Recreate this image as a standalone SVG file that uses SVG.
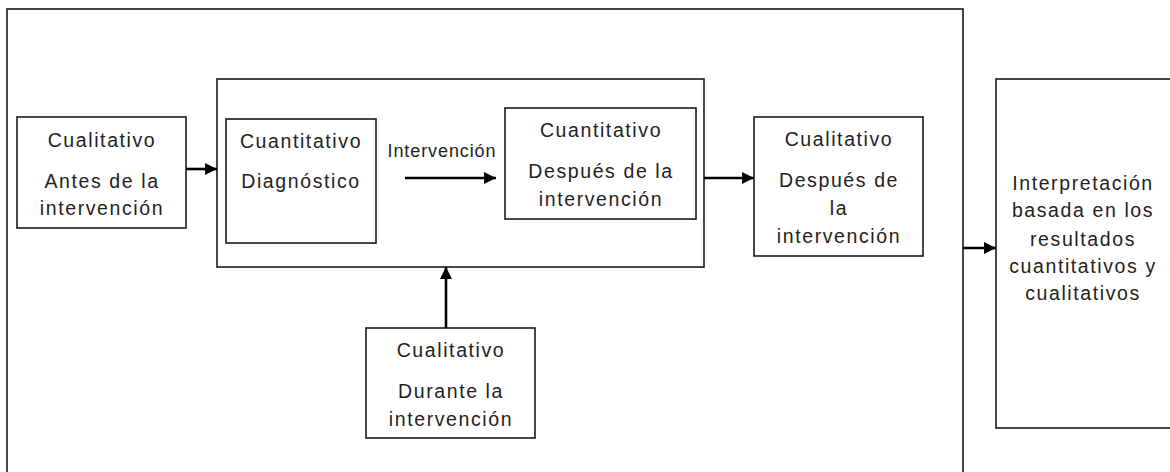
<svg xmlns="http://www.w3.org/2000/svg" width="1170" height="472" viewBox="0 0 1170 472">
<style>
.box{fill:none;stroke:#1a1a1a;stroke-width:1.6}
.t{font-family:"Liberation Sans",Arial,sans-serif;font-size:19.5px;letter-spacing:1.6px;fill:#222;text-anchor:middle}
.c{stroke:#000;stroke-width:2.6;fill:none;marker-end:url(#ah)}
</style>
<defs>
<marker id="ah" viewBox="0 0 10 10" refX="10" refY="5" markerWidth="4.8" markerHeight="4.6" orient="auto" markerUnits="strokeWidth">
<path d="M0,0 L10,5 L0,10 Z" fill="#000"/>
</marker>
</defs>
<rect width="1170" height="472" fill="#fff"/>
<g id="outer"><rect class="box" x="7" y="9" width="956" height="480" stroke-width="2"/></g>
<g id="middle"><rect class="box" x="217" y="79" width="487" height="188"/></g>
<g id="antes">
<rect class="box" x="17" y="117" width="169" height="111"/>
<text class="t" x="102" y="147">Cualitativo</text>
<text class="t" x="102" y="188">Antes de la</text>
<text class="t" x="102" y="215">intervención</text>
</g>
<g id="diagnostico">
<rect class="box" x="226" y="119" width="150" height="124"/>
<text class="t" x="301" y="148">Cuantitativo</text>
<text class="t" x="301" y="188">Diagnóstico</text>
</g>
<g id="cuant-despues">
<rect class="box" x="505" y="108" width="191" height="111"/>
<text class="t" x="601" y="137">Cuantitativo</text>
<text class="t" x="601" y="178">Después de la</text>
<text class="t" x="601" y="206">intervención</text>
</g>
<g id="cual-despues">
<rect class="box" x="754" y="117" width="169" height="139"/>
<text class="t" x="839" y="146">Cualitativo</text>
<text class="t" x="839" y="187">Después de</text>
<text class="t" x="839" y="215">la</text>
<text class="t" x="839" y="243">intervención</text>
</g>
<g id="durante">
<rect class="box" x="366" y="328" width="169" height="110"/>
<text class="t" x="451" y="357">Cualitativo</text>
<text class="t" x="451" y="398">Durante la</text>
<text class="t" x="451" y="426">intervención</text>
</g>
<g id="interpretacion">
<rect class="box" x="996" y="79" width="200" height="349"/>
<text class="t" x="1083" y="190">Interpretación</text>
<text class="t" x="1083" y="217">basada en los</text>
<text class="t" x="1083" y="246">resultados</text>
<text class="t" x="1083" y="273">cuantitativos y</text>
<text class="t" x="1083" y="300">cualitativos</text>
</g>
<g id="connectors">
<line class="c" x1="186" y1="169" x2="217" y2="169"/>
<line class="c" x1="405" y1="178" x2="496" y2="178"/>
<text class="t" x="442" y="157" style="font-size:18px;letter-spacing:0.9px">Intervención</text>
<line class="c" x1="704" y1="178" x2="754" y2="178"/>
<line class="c" x1="963" y1="248" x2="996" y2="248"/>
<line class="c" x1="446" y1="328" x2="446" y2="267"/>
</g>
</svg>
